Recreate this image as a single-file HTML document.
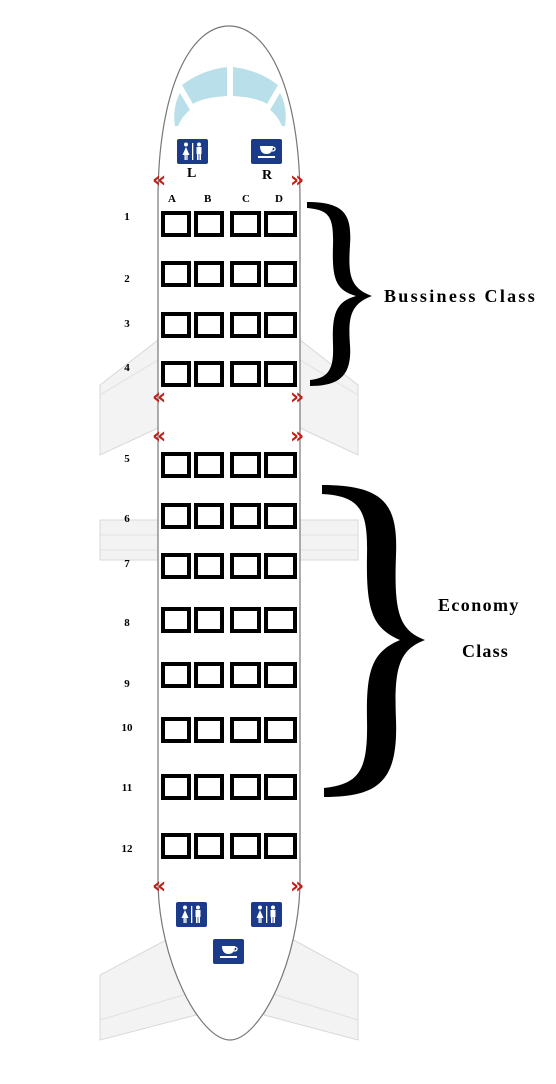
<!DOCTYPE html>
<html><head><meta charset="utf-8"><style>
html,body{margin:0;padding:0;background:#fff;}
body{width:556px;height:1084px;position:relative;overflow:hidden;font-family:"Liberation Serif",serif;}
.seat{position:absolute;box-sizing:border-box;border:4px solid #000;background:#fff;height:26px;}
.num{position:absolute;font-weight:bold;font-size:11px;width:20px;text-align:center;left:117px;}
.col{position:absolute;font-weight:bold;font-size:11px;top:193px;}
.ch{position:absolute;color:#c0201a;font-size:22px;font-weight:bold;line-height:1;font-family:"DejaVu Sans",sans-serif;}
.lab{position:absolute;font-weight:bold;font-size:18px;}
</style></head><body>
<svg width="0" height="0" style="position:absolute">
 <defs>
  <g id="wc">
   <rect x="0" y="0" width="31" height="25" rx="2" fill="#1c3a8a"/>
   <circle cx="9" cy="5.5" r="2" fill="#fff"/>
   <path d="M9,8 L12.5,16 L5.5,16 Z" fill="#fff"/>
   <rect x="7.5" y="15" width="1.3" height="6" fill="#fff"/><rect x="9.3" y="15" width="1.3" height="6" fill="#fff"/>
   <rect x="15" y="4" width="1.3" height="17" fill="#fff"/>
   <circle cx="22" cy="5.5" r="2" fill="#fff"/>
   <rect x="19.5" y="8" width="5" height="7" fill="#fff"/>
   <rect x="20" y="14" width="1.6" height="7" fill="#fff"/><rect x="22.4" y="14" width="1.6" height="7" fill="#fff"/>
  </g>
  <g id="cup">
   <rect x="0" y="0" width="31" height="25" rx="2" fill="#1c3a8a"/>
   <path d="M9,7 L22,7 C22,13 19,15 15.5,15 C12,15 9,13 9,7Z" fill="#fff"/>
   <path d="M21.5,8 C25,8 25,12 21,12" stroke="#fff" stroke-width="1.3" fill="none"/>
   <rect x="7" y="17" width="17" height="2" fill="#fff"/>
  </g>
 </defs>
</svg>
<svg width="556" height="1084" style="position:absolute;left:0;top:0">
 <g fill="#f3f3f3" stroke="#d8d8d8" stroke-width="1">
  <polygon points="158,340 100,385 100,455 158,428"/>
  <polygon points="300,340 358,385 358,455 300,428"/>
  <polygon points="160,520 100,520 100,560 160,560"/>
  <polygon points="298,520 358,520 358,560 298,560"/>
  <polygon points="170,938 100,975 100,1040 196,1015"/>
  <polygon points="290,938 358,975 358,1040 264,1015"/>
 </g>
 <g stroke="#e0e0e0" fill="none">
  <line x1="100" y1="395" x2="158" y2="360"/><line x1="300" y1="360" x2="358" y2="395"/>
  <line x1="100" y1="535" x2="160" y2="535"/><line x1="298" y1="535" x2="358" y2="535"/>
  <line x1="100" y1="550" x2="160" y2="550"/><line x1="298" y1="550" x2="358" y2="550"/>
  <line x1="100" y1="1020" x2="190" y2="993"/><line x1="270" y1="993" x2="358" y2="1020"/>
 </g>
 <path d="M158,880 L158,200 C158,90 190,26 229,26 C268,26 300,90 300,200 L300,880 C300,960 260,1040 230,1040 C200,1040 158,960 158,880 Z" fill="#fff" stroke="#777" stroke-width="1.2"/>
 <g fill="#b9e0ea">
  <path d="M227,67 L227,96 C210,97 199,100 193,104 L182,85 C195,75 210,69 227,67Z"/>
  <path d="M233,67 L233,96 C250,97 261,100 267,104 L278,85 C265,75 250,69 233,67Z"/>
  <path d="M180,93 L190,110 C185,114 181,119 178,126 L175,126 C173,114 175,102 180,93Z"/>
  <path d="M280,93 L270,110 C275,114 279,119 282,126 L285,126 C287,114 285,102 280,93Z"/>
 </g>
 <use href="#wc" x="177" y="139"/>
 <use href="#cup" x="251" y="139"/>
 <use href="#wc" x="176" y="902"/>
 <use href="#wc" x="251" y="902"/>
 <use href="#cup" x="213" y="939"/>
 <path d="M307,202 C345,202 352,215 350,245 C348,275 350,288 372,296 C350,304 348,318 350,345 C352,375 340,386 310,386 L310,380 C328,378 334,370 333,345 C332,315 335,302 356,296 C335,290 332,278 333,245 C334,215 328,210 307,208Z" fill="#000"/>
 <path d="M322,485 C385,485 398,505 396,555 C394,610 398,630 425,640 C398,650 394,670 396,720 C398,780 380,797 324,797 L324,788 C360,784 368,770 367,720 C366,670 372,652 400,640 C372,628 366,610 367,555 C368,510 360,496 322,494Z" fill="#000"/>
</svg>
<div class="lab" style="left:187px;top:166px;font-size:14px">L</div>
<div class="lab" style="left:262px;top:168px;font-size:14px">R</div>
<div class="col" style="left:168px">A</div><div class="col" style="left:204px">B</div><div class="col" style="left:242px">C</div><div class="col" style="left:275px">D</div>
<div class="ch" style="left:152px;top:170px">«</div><div class="ch" style="left:290px;top:170px">»</div>
<div class="ch" style="left:152px;top:387px">«</div><div class="ch" style="left:290px;top:387px">»</div>
<div class="ch" style="left:152px;top:426px">«</div><div class="ch" style="left:290px;top:426px">»</div>
<div class="ch" style="left:152px;top:876px">«</div><div class="ch" style="left:290px;top:876px">»</div>
<div class="num" style="top:211px">1</div><div class="num" style="top:273px">2</div><div class="num" style="top:318px">3</div><div class="num" style="top:362px">4</div>
<div class="num" style="top:453px">5</div><div class="num" style="top:513px">6</div><div class="num" style="top:558px">7</div><div class="num" style="top:617px">8</div>
<div class="num" style="top:678px">9</div><div class="num" style="top:722px">10</div><div class="num" style="top:782px">11</div><div class="num" style="top:843px">12</div>
<div class="lab" style="left:384px;top:286px;letter-spacing:2.3px">Bussiness Class</div>
<div class="lab" style="left:438px;top:595px;letter-spacing:1.4px">Economy</div>
<div class="lab" style="left:462px;top:641px;letter-spacing:1.2px">Class</div>
<div style="position:absolute;left:0;top:0">
 <div class="seat" style="left:161px;top:211px;width:30px"></div><div class="seat" style="left:194px;top:211px;width:30px"></div><div class="seat" style="left:230px;top:211px;width:31px"></div><div class="seat" style="left:264px;top:211px;width:33px"></div>
 <div class="seat" style="left:161px;top:261px;width:30px"></div><div class="seat" style="left:194px;top:261px;width:30px"></div><div class="seat" style="left:230px;top:261px;width:31px"></div><div class="seat" style="left:264px;top:261px;width:33px"></div>
 <div class="seat" style="left:161px;top:312px;width:30px"></div><div class="seat" style="left:194px;top:312px;width:30px"></div><div class="seat" style="left:230px;top:312px;width:31px"></div><div class="seat" style="left:264px;top:312px;width:33px"></div>
 <div class="seat" style="left:161px;top:361px;width:30px"></div><div class="seat" style="left:194px;top:361px;width:30px"></div><div class="seat" style="left:230px;top:361px;width:31px"></div><div class="seat" style="left:264px;top:361px;width:33px"></div>
 <div class="seat" style="left:161px;top:452px;width:30px"></div><div class="seat" style="left:194px;top:452px;width:30px"></div><div class="seat" style="left:230px;top:452px;width:31px"></div><div class="seat" style="left:264px;top:452px;width:33px"></div>
 <div class="seat" style="left:161px;top:503px;width:30px"></div><div class="seat" style="left:194px;top:503px;width:30px"></div><div class="seat" style="left:230px;top:503px;width:31px"></div><div class="seat" style="left:264px;top:503px;width:33px"></div>
 <div class="seat" style="left:161px;top:553px;width:30px"></div><div class="seat" style="left:194px;top:553px;width:30px"></div><div class="seat" style="left:230px;top:553px;width:31px"></div><div class="seat" style="left:264px;top:553px;width:33px"></div>
 <div class="seat" style="left:161px;top:607px;width:30px"></div><div class="seat" style="left:194px;top:607px;width:30px"></div><div class="seat" style="left:230px;top:607px;width:31px"></div><div class="seat" style="left:264px;top:607px;width:33px"></div>
 <div class="seat" style="left:161px;top:662px;width:30px"></div><div class="seat" style="left:194px;top:662px;width:30px"></div><div class="seat" style="left:230px;top:662px;width:31px"></div><div class="seat" style="left:264px;top:662px;width:33px"></div>
 <div class="seat" style="left:161px;top:717px;width:30px"></div><div class="seat" style="left:194px;top:717px;width:30px"></div><div class="seat" style="left:230px;top:717px;width:31px"></div><div class="seat" style="left:264px;top:717px;width:33px"></div>
 <div class="seat" style="left:161px;top:774px;width:30px"></div><div class="seat" style="left:194px;top:774px;width:30px"></div><div class="seat" style="left:230px;top:774px;width:31px"></div><div class="seat" style="left:264px;top:774px;width:33px"></div>
 <div class="seat" style="left:161px;top:833px;width:30px"></div><div class="seat" style="left:194px;top:833px;width:30px"></div><div class="seat" style="left:230px;top:833px;width:31px"></div><div class="seat" style="left:264px;top:833px;width:33px"></div>
</div>
</body></html>
